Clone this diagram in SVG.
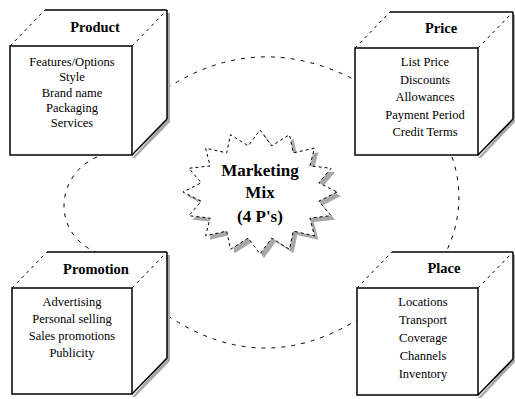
<svg xmlns="http://www.w3.org/2000/svg" width="515" height="399" viewBox="0 0 515 399">
<style>
.bg{fill:#fff}
.face{fill:#fff;stroke:#000;stroke-width:1.5}
.side{fill:#fff;stroke:none}
.edge{fill:none;stroke:#000;stroke-width:1.5}
.hid{fill:none;stroke:#000;stroke-width:1;stroke-dasharray:3,4}
.shadow{fill:#a8a8a8}
.conn{fill:none;stroke:#000;stroke-width:1;stroke-dasharray:4,6}
.lbl{font-family:"Liberation Serif",serif;font-weight:bold;font-size:14.5px;text-anchor:middle;fill:#000}
.item{font-family:"Liberation Serif",serif;font-size:12.5px;text-anchor:middle;fill:#000}
.ctr{font-family:"Liberation Serif",serif;font-weight:bold;font-size:17px;text-anchor:middle;fill:#000}
.star{fill:#fff;stroke:#000;stroke-width:1;stroke-dasharray:3,3}
</style>
<rect class="bg" x="0" y="0" width="515" height="399"/>
<g id="connectors">
<path class="conn" d="M167,88 Q258,30 355,80"/>
<path class="conn" d="M452,157 C462,185 462,220 446,252"/>
<path class="conn" d="M168,316 Q262,378 357,320"/>
<path class="conn" d="M97,157 C55,175 50,235 100,254"/>
</g>
<g id="product">
<polygon class="shadow" points="170,13 170,122 135,158 132,158 167,119 167,13"/>
<polygon class="side" points="10,46 45,10 167,10 167,119 132,155 10,155"/>
<line class="hid" x1="10" y1="46" x2="45" y2="10"/>
<line class="hid" x1="132" y1="46" x2="167" y2="10"/>
<line class="edge" x1="45" y1="10" x2="167" y2="10"/>
<line class="edge" x1="167" y1="10" x2="167" y2="119"/>
<line class="edge" x1="132" y1="155" x2="167" y2="119"/>
<rect class="face" x="10" y="46" width="122" height="109"/>
<text class="lbl" x="95" y="32">Product</text>
<text class="item" x="72" y="66">Features/Options</text>
<text class="item" x="72" y="81">Style</text>
<text class="item" x="72" y="97">Brand name</text>
<text class="item" x="72" y="112">Packaging</text>
<text class="item" x="72" y="127">Services</text>
</g>
<g id="price">
<polygon class="shadow" points="513,15 515,15 515,122 481,158 478,158 513,119"/>
<polygon class="side" points="355,48 390,12 513,12 513,119 478,155 355,155"/>
<line class="hid" x1="355" y1="48" x2="390" y2="12"/>
<line class="hid" x1="478" y1="48" x2="513" y2="12"/>
<line class="edge" x1="390" y1="12" x2="513" y2="12"/>
<line class="edge" x1="513" y1="12" x2="513" y2="119"/>
<line class="edge" x1="478" y1="155" x2="513" y2="119"/>
<rect class="face" x="355" y="48" width="123" height="107"/>
<text class="lbl" x="441" y="33">Price</text>
<text class="item" x="425" y="66">List Price</text>
<text class="item" x="425" y="84">Discounts</text>
<text class="item" x="425" y="101">Allowances</text>
<text class="item" x="425" y="119">Payment Period</text>
<text class="item" x="425" y="136">Credit Terms</text>
</g>
<g id="promotion">
<polygon class="shadow" points="170,255 170,361 135,397 132,397 167,358 167,255"/>
<polygon class="side" points="12,288 47,252 167,252 167,358 132,394 12,394"/>
<line class="hid" x1="12" y1="288" x2="47" y2="252"/>
<line class="hid" x1="132" y1="288" x2="167" y2="252"/>
<line class="edge" x1="47" y1="252" x2="167" y2="252"/>
<line class="edge" x1="167" y1="252" x2="167" y2="358"/>
<line class="edge" x1="132" y1="394" x2="167" y2="358"/>
<rect class="face" x="12" y="288" width="120" height="106"/>
<text class="lbl" x="96" y="274">Promotion</text>
<text class="item" x="72" y="306">Advertising</text>
<text class="item" x="72" y="323">Personal selling</text>
<text class="item" x="72" y="340">Sales promotions</text>
<text class="item" x="72" y="357">Publicity</text>
</g>
<g id="place">
<polygon class="shadow" points="513,255 515,255 515,362 481,398 478,398 513,359"/>
<polygon class="side" points="357,288 392,252 513,252 513,359 478,395 357,395"/>
<line class="hid" x1="357" y1="288" x2="392" y2="252"/>
<line class="hid" x1="478" y1="288" x2="513" y2="252"/>
<line class="edge" x1="392" y1="252" x2="513" y2="252"/>
<line class="edge" x1="513" y1="252" x2="513" y2="359"/>
<line class="edge" x1="478" y1="395" x2="513" y2="359"/>
<rect class="face" x="357" y="288" width="121" height="107"/>
<text class="lbl" x="444" y="273">Place</text>
<text class="item" x="423" y="306">Locations</text>
<text class="item" x="423" y="324">Transport</text>
<text class="item" x="423" y="342">Coverage</text>
<text class="item" x="423" y="360">Channels</text>
<text class="item" x="423" y="378">Inventory</text>
</g>
<g id="marketing-mix">
<polygon class="shadow" transform="translate(4,4)" points="337,192 318.8,201.2 331.1,215.7 309.9,218.1 314.4,235.8 293.3,231.1 289.5,249.3 271.7,238.1 260,254 248.3,238.1 230.5,249.3 226.7,231.1 205.6,235.8 210.1,218.1 188.9,215.7 201.2,201.2 183,192 201.2,182.8 188.9,168.3 210.1,165.9 205.6,148.2 226.7,152.9 230.5,134.7 248.3,145.9 260,130 271.7,145.9 289.5,134.7 293.3,152.9 314.4,148.2 309.9,165.9 331.1,168.3 318.8,182.8"/>
<polygon class="star" points="337,192 318.8,201.2 331.1,215.7 309.9,218.1 314.4,235.8 293.3,231.1 289.5,249.3 271.7,238.1 260,254 248.3,238.1 230.5,249.3 226.7,231.1 205.6,235.8 210.1,218.1 188.9,215.7 201.2,201.2 183,192 201.2,182.8 188.9,168.3 210.1,165.9 205.6,148.2 226.7,152.9 230.5,134.7 248.3,145.9 260,130 271.7,145.9 289.5,134.7 293.3,152.9 314.4,148.2 309.9,165.9 331.1,168.3 318.8,182.8"/>
<text class="ctr" x="260" y="176">Marketing</text>
<text class="ctr" x="260" y="198">Mix</text>
<text class="ctr" x="260" y="222">(4 P's)</text>
</g>
</svg>
